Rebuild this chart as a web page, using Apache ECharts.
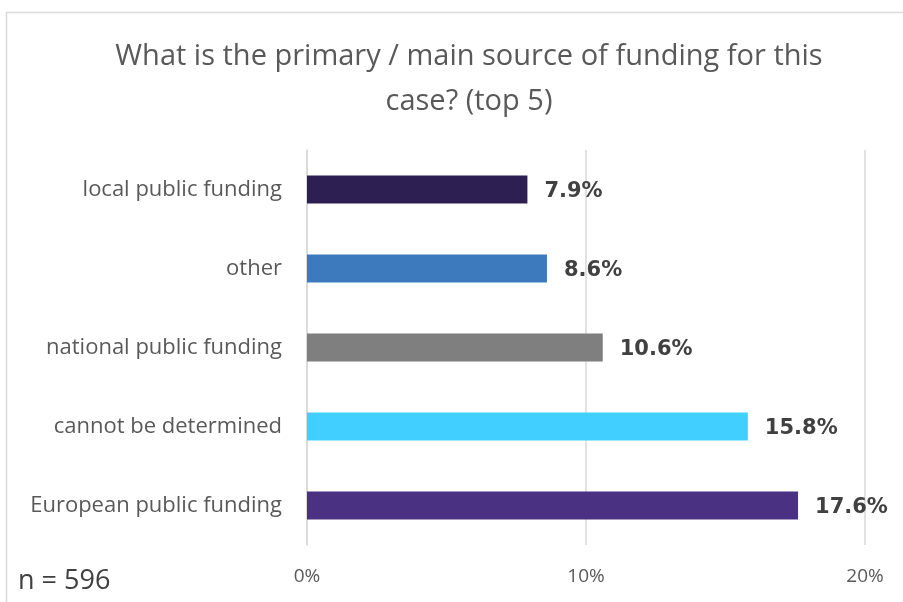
<!DOCTYPE html>
<html><head><meta charset="utf-8">
<script src="https://cdn.jsdelivr.net/npm/echarts@6/dist/echarts.min.js"></script>
<style>html,body{margin:0;padding:0;background:#fff}#c{width:903px;height:602px}</style>
</head><body><div id="c"></div>
<script>
const categories = ["local public funding", "other", "national public funding", "cannot be determined", "European public funding"];
const values = [7.9, 8.6, 10.6, 15.8, 17.6];
const colors = ["#2E1F52", "#3C7ABD", "#7F7F7F", "#40CFFF", "#4B3182"];
const tickLabels = ["0%", "10%", "20%"];
const titleText = "What is the primary / main source of funding for this\ncase? (top 5)";
const noteText = "n = 596";

const chart = echarts.init(document.getElementById('c'), null, {renderer: 'canvas'});
chart.setOption({
  animation: false,
  backgroundColor: '#fff',
  title: {
    text: titleText, left: 464, top: 29, textAlign: 'center',
    textStyle: {fontFamily: 'Open Sans', fontWeight: 'normal', fontSize: 29, color: '#595959', lineHeight: 45}
  },
  graphic: [
    {type: 'rect', shape: {x: 6.5, y: 12.5, width: 1000, height: 700}, style: {fill: 'none', stroke: '#D9D9D9', lineWidth: 1.5}, z: -1},
    {type: 'text', left: 18, top: 568, style: {text: noteText, fontFamily: 'Open Sans', fontSize: 27, fill: '#404040'}}
  ],
  grid: {left: 307, right: 38, top: 150, height: 395, containLabel: false},
  xAxis: {
    type: 'value', min: 0, max: 20, interval: 10,
    axisLine: {show: false}, axisTick: {show: false},
    splitLine: {show: true, lineStyle: {color: '#D9D9D9', width: 1.5}},
    axisLabel: {
      margin: 22, fontFamily: 'Open Sans', fontSize: 19, color: '#595959',
      formatter: v => tickLabels[Math.round(v / 10)]
    }
  },
  yAxis: {
    type: 'category', data: categories, inverse: true,
    axisLine: {show: true, lineStyle: {color: '#D9D9D9', width: 1.5}},
    axisTick: {show: false},
    axisLabel: {margin: 25, fontFamily: 'Open Sans', fontSize: 22, color: '#595959'}
  },
  series: [{
    type: 'bar', barWidth: 28,
    data: values.map((v, i) => ({value: v, itemStyle: {color: colors[i]}})),
    label: {
      show: true, position: 'right', distance: 17, offset: [0, 2],
      formatter: p => p.value.toFixed(1) + '%',
      fontFamily: 'DejaVu Sans', fontWeight: 'bold', fontSize: 21, color: '#404040'
    }
  }]
});
</script></body></html>
